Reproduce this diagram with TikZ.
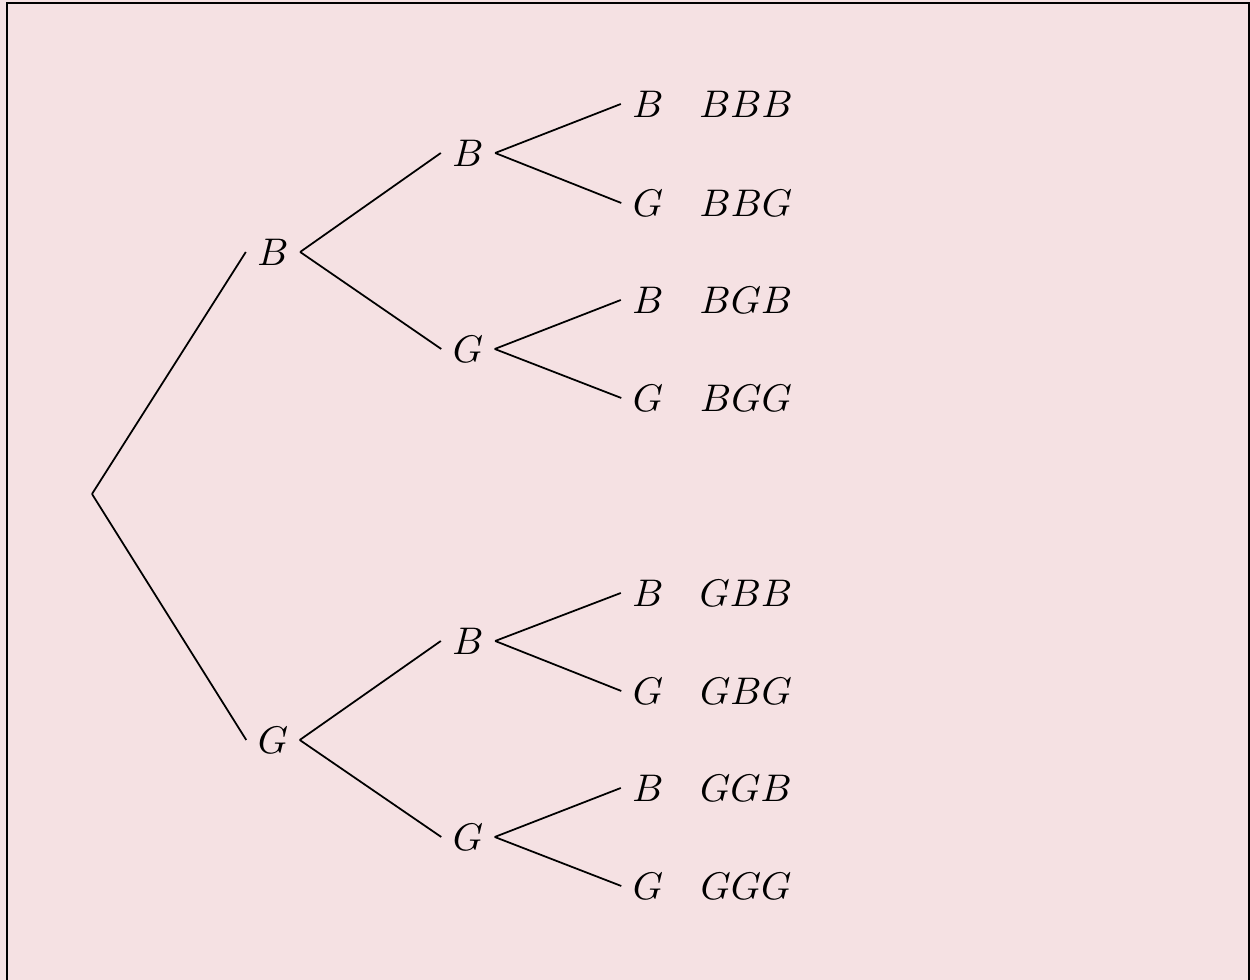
\documentclass[tikz,border=0pt]{standalone}
\definecolor{bgpink}{RGB}{245,225,227}
\begin{document}
\begin{tikzpicture}[x=0.01cm,y=-0.01cm,
  lab/.style={inner sep=3.1pt,font=\fontsize{10.6pt}{13pt}\selectfont},
  edge/.style={draw=black,line width=0.5pt}]
\fill[bgpink] (0,0) rectangle (1250,980);
\useasboundingbox (0,0) rectangle (1250,980);
\draw[line width=0.6pt] (7,3) rectangle (1249,1000);
\coordinate (r) at (92,494);
\node[lab] (b) at (273,252) {$B$};
\node[lab] (g) at (273,740) {$G$};
\node[lab] (bb) at (468,153) {$B$};
\node[lab] (bg) at (468,349) {$G$};
\node[lab] (gb) at (468,641) {$B$};
\node[lab] (gg) at (468,837) {$G$};
\node[lab] (bbb) at (648,104) {$B$};
\node[lab] (bbg) at (648,203) {$G$};
\node[lab] (bgb) at (648,300) {$B$};
\node[lab] (bgg) at (648,398) {$G$};
\node[lab] (gbb) at (648,593) {$B$};
\node[lab] (gbg) at (648,691) {$G$};
\node[lab] (ggb) at (648,788) {$B$};
\node[lab] (ggg) at (648,886) {$G$};
\node[lab] (o1) at (746,104) {$BBB$};
\node[lab] (o2) at (746,203) {$BBG$};
\node[lab] (o3) at (746,300) {$BGB$};
\node[lab] (o4) at (746,398) {$BGG$};
\node[lab] (o5) at (746,593) {$GBB$};
\node[lab] (o6) at (746,691) {$GBG$};
\node[lab] (o7) at (746,788) {$GGB$};
\node[lab] (o8) at (746,886) {$GGG$};
\draw[edge] (r) -- (b.west);
\draw[edge] (r) -- (g.west);
\draw[edge] (b.east) -- (bb.west);
\draw[edge] (b.east) -- (bg.west);
\draw[edge] (g.east) -- (gb.west);
\draw[edge] (g.east) -- (gg.west);
\draw[edge] (bb.east) -- (bbb.west);
\draw[edge] (bb.east) -- (bbg.west);
\draw[edge] (bg.east) -- (bgb.west);
\draw[edge] (bg.east) -- (bgg.west);
\draw[edge] (gb.east) -- (gbb.west);
\draw[edge] (gb.east) -- (gbg.west);
\draw[edge] (gg.east) -- (ggb.west);
\draw[edge] (gg.east) -- (ggg.west);
\end{tikzpicture}
\end{document}
